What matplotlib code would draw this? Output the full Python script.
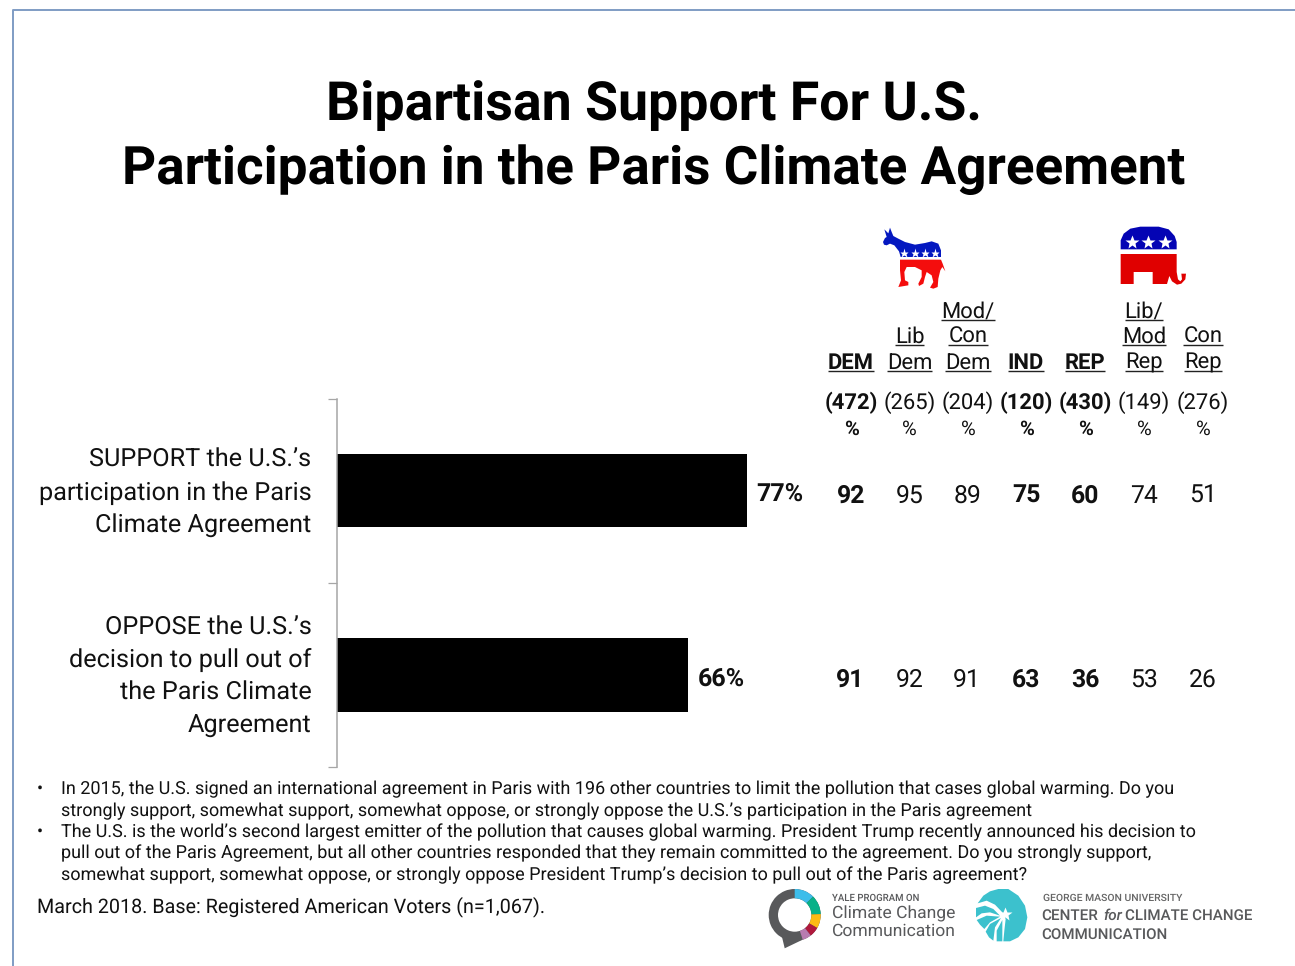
import matplotlib
matplotlib.use("Agg")
import matplotlib.pyplot as plt
from matplotlib.patches import Polygon, Wedge

plt.rcParams['font.family'] = ['Roboto', 'DejaVu Sans']
plt.rcParams['text.hinting'] = 'no_hinting'
plt.rcParams['text.hinting_factor'] = 8

W, H = 1295, 966
title_lines = ["Bipartisan Support For U.S.", "Participation in the Paris Climate Agreement"]
title_sizes = [38.65, 38.2]
bar_labels = ["SUPPORT the U.S.’s\nparticipation in the Paris\nClimate Agreement",
              "OPPOSE the U.S.’s\ndecision to pull out of\nthe Paris Climate\nAgreement"]
overall = [77, 66]
columns = [["DEM"], ["Lib", "Dem"], ["Mod/", "Con", "Dem"], ["IND"], ["REP"],
           ["Lib/", "Mod", "Rep"], ["Con", "Rep"]]
bases = [472, 265, 204, 120, 430, 149, 276]
bold_col = [True, False, False, True, True, False, False]
support = [92, 95, 89, 75, 60, 74, 51]
oppose = [91, 92, 91, 63, 36, 53, 26]
notes = [["In 2015, the U.S. signed an international agreement in Paris with 196 other countries to limit the pollution that cases global warming. Do you",
          "strongly support, somewhat support, somewhat oppose, or strongly oppose the U.S.’s participation in the Paris agreement"],
         ["The U.S. is the world’s second largest emitter of the pollution that causes global warming. President Trump recently announced his decision to",
          "pull out of the Paris Agreement, but all other countries responded that they remain committed to the agreement. Do you strongly support,",
          "somewhat support, somewhat oppose, or strongly oppose President Trump’s decision to pull out of the Paris agreement?"]]
base_note = "March 2018. Base: Registered American Voters (n=1,067)."

fig = plt.figure(figsize=(W / 100, H / 100), dpi=100, facecolor='white')

o = fig.add_axes([0, 0, 1, 1], zorder=3)
o.set_xlim(0, W); o.set_ylim(H, 0); o.axis('off'); o.patch.set_alpha(0)

def frac(x0, y0, x1, y1):
    return [x0 / W, 1 - y1 / H, (x1 - x0) / W, (y1 - y0) / H]
ax = fig.add_axes(frac(337, 398.5, 337 + 532, 767), zorder=2)
ax.patch.set_alpha(0)
ax.set_xlim(0, 100); ax.set_ylim(1.5, -0.5)
ax.barh([0, 1], overall, height=0.4, color='black')
for s in ['top', 'right', 'bottom']:
    ax.spines[s].set_visible(False)
ax.spines['left'].set_color('#a6a6a6'); ax.spines['left'].set_linewidth(1.1)
ax.set_xticks([])
ax.set_yticks([-0.5, 0.5, 1.5]); ax.set_yticklabels([])
ax.tick_params(axis='y', length=6.5, width=0.9, color='#a6a6a6')
for i, v in enumerate(overall):
    ax.annotate(f"{v}%", (v, i), xytext=(7.2, -2.6), textcoords='offset points', fontsize=18,
                fontweight='bold', va='center', ha='left', color='#111111')

o.plot([12.5, 12.5, W], [H, 9.5, 9.5], color='#7f9cc4', lw=1.4, solid_capstyle='butt')

for t, y, fs in zip(title_lines, [105, 169.5], title_sizes):
    o.text(654, y, t, fontsize=fs, fontweight='bold', ha='center', va='center', color='black')

label_tops = [460, 627.5]
for lab, y0 in zip(bar_labels, label_tops):
    for k, line in enumerate(lab.split("\n")):
        o.text(311.5, y0 + k * 32.7, line, fontsize=18.2, ha='right', va='center', color='#111111')

col_x = [851, 909.5, 968, 1026, 1085, 1144, 1203]
line_y = [311, 336, 362]
fig.canvas.draw()
rend = fig.canvas.get_renderer()
for cx, col, b, bd, s, op in zip(col_x, columns, bases, bold_col, support, oppose):
    w = 'bold' if bd else 'normal'
    for k, word in enumerate(col):
        y = line_y[3 - len(col) + k]
        t = o.text(cx, y + 0.8, word, fontsize=15.8, fontweight=w, ha='center', va='center', color='#111111')
        bb = t.get_window_extent(rend)
        o.plot([bb.x0, bb.x1], [y + 9, y + 9], color='#222222', lw=1.0, solid_capstyle='butt')
    o.text(cx, 402.5, f"({b})", fontsize=15.8, fontweight=w, ha='center', va='center', color='#111111')
    o.text(cx, 429.5, "%", fontsize=14.5, fontweight=w, ha='center', va='center', color='#111111')
    o.text(cx, 496, str(s), fontsize=17.8, fontweight=w, ha='center', va='center', color='#111111')
    o.text(cx - (1 if cx in (851, 968) else 0), 680, str(op), fontsize=17.8, fontweight=w, ha='center', va='center', color='#111111')

def zp(pts, ox, oy):
    return [(ox + x / 3, oy + y / 3) for x, y in pts]

# donkey emblem
o.add_patch(Polygon(zp([(24, 60), (30, 48), (35, 45), (28, 22), (36, 30), (40, 34), (45, 17), (50, 30), (55, 42),
                        (70, 50), (90, 60), (120, 68), (150, 63), (170, 58), (190, 65), (198, 85), (198, 105),
                        (77, 105), (72, 88), (58, 70), (45, 65), (35, 70), (27, 68)], 875, 222),
                    closed=True, fc='#0418c0', ec='none'))
o.add_patch(Polygon(zp([(75, 113), (198, 113), (203, 125), (211, 148), (202, 135), (196, 145), (190, 170), (188, 195),
                        (175, 200), (165, 197), (175, 180), (170, 160), (155, 150), (150, 165), (145, 185),
                        (132, 192), (130, 185), (140, 165), (140, 145), (120, 135), (95, 135), (88, 150), (90, 175),
                        (100, 180), (100, 190), (70, 195), (78, 175), (75, 145)], 875, 222),
                    closed=True, fc='#f40d0d', ec='none'))
for x in [904, 914.5, 925, 935]:
    o.plot(x, 252.5, marker='*', ms=6.5, color='white', mec='none')

# elephant emblem
o.add_patch(Polygon(zp([(26, 82), (26, 55), (35, 35), (55, 20), (85, 14), (140, 14), (170, 22), (188, 42), (194, 60),
                        (194, 82)], 1112, 222), closed=True, fc='#0404b4', ec='none'))
o.add_patch(Polygon(zp([(26, 96), (194, 96), (194, 150), (198, 172), (205, 178), (210, 172), (208, 155), (222, 155),
                        (220, 172), (208, 185), (195, 188), (180, 178), (172, 162), (165, 186), (122, 186),
                        (122, 150), (65, 150), (65, 186), (26, 186)], 1112, 222),
                    closed=True, fc='#e00000', ec='none'))
for x in [1132, 1148, 1164.5]:
    o.plot(x, 241.5, marker='*', ms=10.5, color='white', mec='none')

yy = [[789, 811], [832, 853, 875]]
for para, ys in zip(notes, yy):
    o.text(40, ys[0], "•", fontsize=13, ha='center', va='center', color='#111111')
    for line, y in zip(para, ys):
        o.text(61, y, line, fontsize=12.99, ha='left', va='center', color='#111111')
o.text(37, 907, base_note, fontsize=14.25, ha='left', va='center', color='#111111')

# Yale logo
c = (794.7, 915)
o.add_patch(Wedge(c, 26, 0, 360, width=9.3, fc='#58595b', ec='none'))
for a0, a1, col in [(-90, -45, '#3dbdea'), (-45, -2, '#08b188'), (-2, 30, '#fdbb14'),
                    (30, 52, '#b0183c'), (52, 72, '#b87bb0')]:
    o.add_patch(Wedge(c, 26, a0, a1, width=9.3, fc=col, ec='none'))
o.add_patch(Polygon([(782, 937), (784.7, 948.3), (802, 940)], closed=True, fc='#58595b', ec='none'))
o.text(832, 898, "YALE PROGRAM ON", fontsize=6.9, color='#58595b', va='center', fontweight='medium')
o.text(832, 914, "Climate Change", fontsize=12.6, color='#58595b', va='center')
o.text(832, 931.5, "Communication", fontsize=12.6, color='#58595b', va='center')

# Mason logo
teal = '#3cc1cd'
for pts in [[(38, 58), (55, 35), (75, 22), (100, 15), (130, 15), (160, 35), (180, 65), (187, 100), (180, 135),
             (160, 160), (135, 172), (115, 172), (118, 140), (122, 105), (112, 85), (90, 62), (65, 50)],
            [(33, 72), (60, 65), (85, 75), (105, 95), (75, 85), (50, 88), (33, 100)],
            [(35, 108), (65, 95), (105, 98), (75, 115), (58, 135), (45, 122)],
            [(62, 143), (75, 120), (108, 102), (90, 130), (85, 170), (72, 160)],
            [(95, 172), (95, 140), (112, 108), (112, 140), (112, 172)]]:
    o.add_patch(Polygon(zp(pts, 965, 884), closed=True, fc=teal, ec='none'))
o.plot(1004.5, 913.5, marker='*', ms=10, color='white', mec='none')

o.text(1043, 898.5, "GEORGE MASON UNIVERSITY", fontsize=7.45, color='#666666', va='center', fontweight='medium')
o.text(1041, 916, "CENTER", fontsize=11, color='#58595b', va='center', fontweight='medium')
o.text(1103, 916, "for", fontsize=11, color='#58595b', va='center', fontstyle='italic', fontweight='medium')
o.text(1125, 916, "CLIMATE CHANGE", fontsize=10.9, color='#58595b', va='center', fontweight='medium')
o.text(1041, 935, "COMMUNICATION", fontsize=10.9, color='#58595b', va='center', fontweight='medium')

fig.savefig("out.png", dpi=100, facecolor='white')
